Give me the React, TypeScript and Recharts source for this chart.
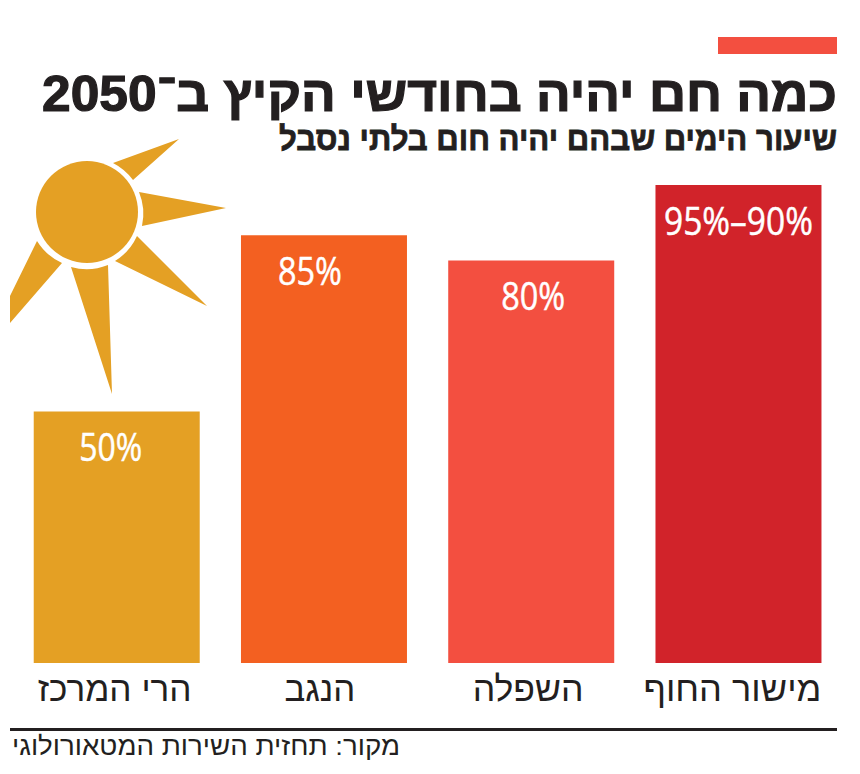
import React from 'react';
import { BarChart, Bar, XAxis, YAxis, Cell, LabelList } from 'recharts';

const regions = ['הרי המרכז', 'הנגב', 'השפלה', 'מישור החוף'];
const heatDays = [50, 85, 80, 95];
const heatLabels = ['50%', '85%', '80%', '95%–90%'];
const barColors = ['#e4a024', '#f36021', '#f34f40', '#d1232a'];

const title = 'כמה חם יהיה בחודשי הקיץ ב־2050';
const subtitle = 'שיעור הימים שבהם יהיה חום בלתי נסבל';
const source = 'מקור: תחזית השירות המטאורולוגי';

const data = regions.map((region, i) => ({ region, value: heatDays[i], label: heatLabels[i] }));

// small hand placement, the original labels are not quite centred on the bars
const tickWidths = [154, 71, 111, 178];
const tickShift = [-2, -4, -3, -6];
const labelWidths = [63, 64, 64, 149];
const labelShift = [-6, -14, 2, 0];

const HEBREW = '"Liberation Sans", sans-serif';
const NUMBERS = '"Liberation Sans Narrow", "Open Sans", sans-serif';

const sunRays = [
    'M113,163 L179,139 L133,180 A57,57 0 0 0 113,163 Z',
    'M139,192 L226,208 L142,226 A57,57 0 0 0 139,192 Z',
    'M137,236 L207,306 L115,261 A57,57 0 0 0 137,236 Z',
    'M108,265 L112,394 L71,267 A57,57 0 0 0 108,265 Z',
    'M37,241 A57,57 0 0 0 62,263 L10,323 L10,296 Z',
];

const RegionTick = ({ x, y, payload, index }: any) => (
    <text
        x={x + tickShift[index] + tickWidths[index] / 2}
        y={y + 30}
        direction="rtl"
        textAnchor="start"
        fontFamily={HEBREW}
        fontSize={35}
        fill="#231f20"
        textLength={tickWidths[index]}
        lengthAdjust="spacingAndGlyphs"
    >
        {payload.value}
    </text>
);

const ValueLabel = ({ x, y, width, value, index }: any) => (
    <text
        x={x + width / 2 + labelShift[index]}
        y={y + 50}
        textAnchor="middle"
        fontFamily={NUMBERS}
        fontSize={39}
        fill="#ffffff"
        stroke="#ffffff"
        strokeWidth={0.5}
        textLength={labelWidths[index]}
        lengthAdjust="spacingAndGlyphs"
    >
        {value}
    </text>
);

const App = () => (
    <div style={{ position: 'absolute', left: 0, top: 0, width: 860, height: 774, background: '#fff' }}>
        <BarChart
            width={860}
            height={774}
            data={data}
            margin={{ top: 185, right: 18, bottom: 70, left: 13 }}
            barCategoryGap="10%"
        >
            <XAxis dataKey="region" axisLine={false} tickLine={false} height={41} interval={0} tick={RegionTick} />
            <YAxis hide domain={[0, 95]} />
            <Bar dataKey="value" isAnimationActive={false}>
                {regions.map((region, i) => (
                    <Cell key={region} fill={barColors[i]} />
                ))}
                <LabelList dataKey="label" content={ValueLabel} />
            </Bar>
        </BarChart>

        <svg width={860} height={774} style={{ position: 'absolute', left: 0, top: 0, pointerEvents: 'none' }}>
            <rect x={718} y={37} width={119} height={17} fill="#f34f40" />
            <text
                x={837}
                y={111}
                direction="rtl"
                textAnchor="start"
                fontFamily={HEBREW}
                fontWeight={700}
                fontSize={50}
                fill="#231f20"
                stroke="#231f20"
                strokeWidth={1.2}
                textLength={795}
                lengthAdjust="spacingAndGlyphs"
            >
                {title}
            </text>
            <text
                x={837}
                y={150}
                direction="rtl"
                textAnchor="start"
                fontFamily={HEBREW}
                fontWeight={700}
                fontSize={33}
                fill="#231f20"
                stroke="#231f20"
                strokeWidth={0.8}
                textLength={558}
                lengthAdjust="spacingAndGlyphs"
            >
                {subtitle}
            </text>

            <circle cx={87} cy={212} r={51} fill="#e4a024" />
            {sunRays.map((d) => (
                <path key={d} d={d} fill="#e4a024" />
            ))}

            <rect x={10} y={728} width={827} height={3} fill="#231f20" />
            <text
                x={400}
                y={755}
                direction="rtl"
                textAnchor="start"
                fontFamily={HEBREW}
                fontSize={26}
                fill="#231f20"
                textLength={388}
                lengthAdjust="spacingAndGlyphs"
            >
                {source}
            </text>
        </svg>
    </div>
);

export default App;
